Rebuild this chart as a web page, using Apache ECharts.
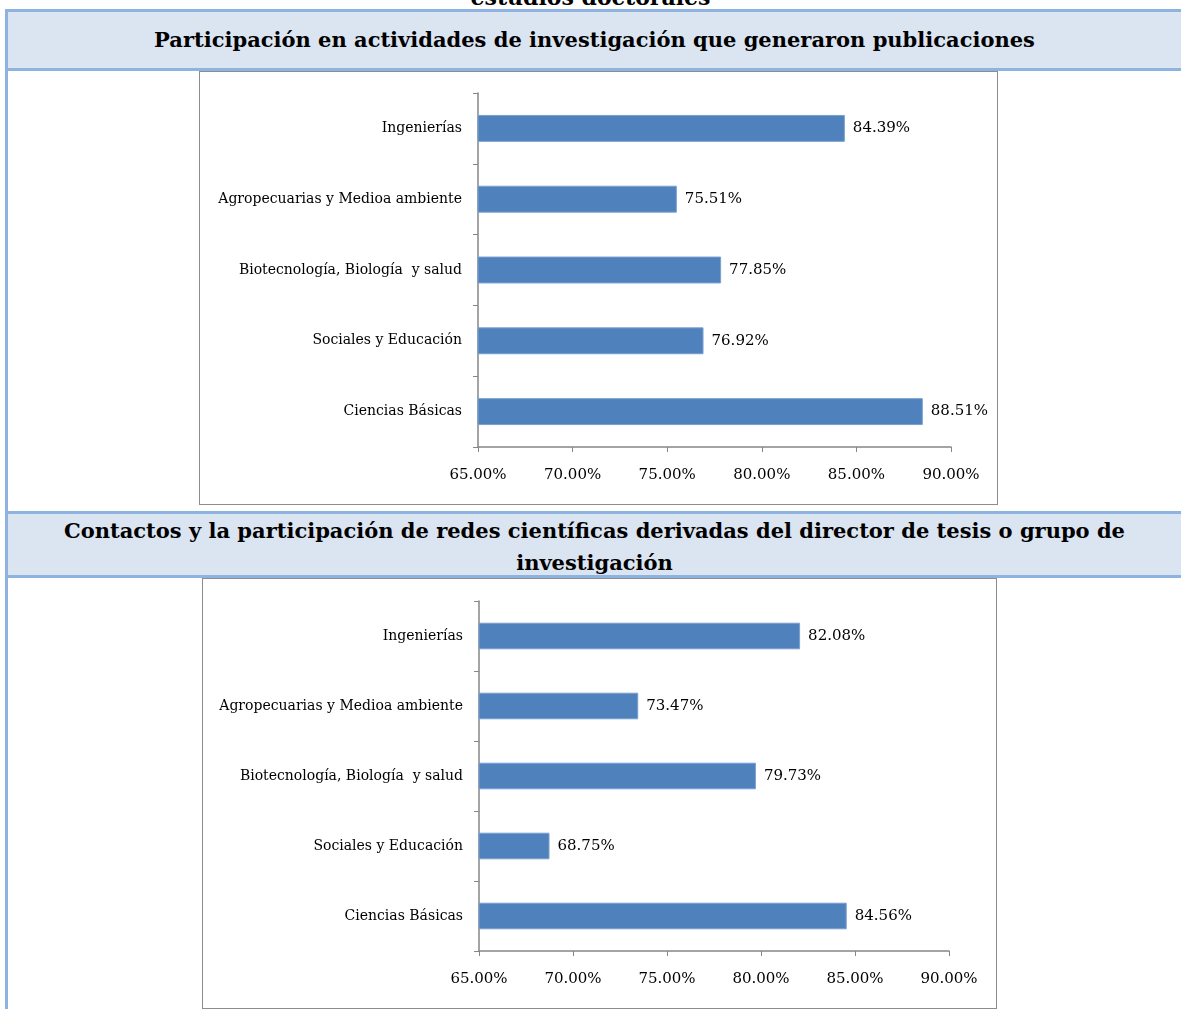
<!DOCTYPE html>
<html>
<head>
<meta charset="utf-8">
<script src="https://cdn.jsdelivr.net/npm/echarts@6/dist/echarts.min.js"></script>
<style>
  body { margin: 0; background: #fff; }
  #page { position: relative; width: 1181px; height: 1009px; overflow: hidden; font-family: 'DejaVu Serif', serif; }
  .head {
    position: absolute; left: 5px; width: 1176px;
    background: #dbe5f1; border-top: 3px solid #8fb3e0; border-bottom: 3px solid #8fb3e0;
    border-left: 3px solid #8fb3e0; box-sizing: border-box;
    font-weight: bold; font-size: 21px; text-align: center; color: #000;
  }
  .side { position: absolute; top: 9px; left: 5px; width: 3px; height: 1009px; background: #8fb3e0; }
  .box { position: absolute; border: 1px solid #8c8c8c; box-sizing: border-box; background: #fff; }
</style>
</head>
<body>
<div id="page">
  <div style="position:absolute;top:-16px;left:0;width:1181px;text-align:center;font-weight:bold;font-size:22px;">estudios doctorales</div>
  <div class="side"></div>
  <div class="head" style="top:9px;height:62px;line-height:56px;">Participación en actividades de investigación que generaron publicaciones</div>
  <div class="box" id="c1" style="left:199px;top:71px;width:799px;height:434px;"></div>
  <div class="head" style="top:511px;height:67px;line-height:32px;padding-top:1px;">Contactos y la participación de redes científicas derivadas del director de tesis o grupo de<br>investigación</div>
  <div class="box" id="c2" style="left:202px;top:578px;width:795px;height:431px;"></div>
</div>
<script>
// categorías (de arriba a abajo)
const categories = ['Ingenierías', 'Agropecuarias y Medioa ambiente', 'Biotecnología, Biología  y salud', 'Sociales y Educación', 'Ciencias Básicas']
// publicaciones
const publicaciones = [84.39, 75.51, 77.85, 76.92, 88.51]
// redes científicas
const redes = [82.08, 73.47, 79.73, 68.75, 84.56]
const xMin = 65
const xMax = 90
const xStep = 5

function makeOption (data, grid) {
  return {
    animation: false,
    textStyle: { fontFamily: 'DejaVu Serif' },
    grid: grid,
    xAxis: {
      type: 'value',
      min: xMin,
      max: xMax,
      interval: xStep,
      axisLine: { show: true, lineStyle: { color: '#868686', width: 1.5 } },
      axisTick: { show: true, length: 5, lineStyle: { color: '#868686' } },
      splitLine: { show: false },
      axisLabel: { color: '#000', fontSize: 15, margin: 21, formatter: v => v.toFixed(2) + '%' }
    },
    yAxis: {
      type: 'category',
      inverse: true,
      data: categories,
      axisLine: { show: true, lineStyle: { color: '#868686', width: 1.5 } },
      axisTick: { show: true, length: 5, lineStyle: { color: '#868686' } },
      axisLabel: { color: '#000', fontSize: 14, margin: 16 }
    },
    series: [{
      type: 'bar',
      data: data,
      barWidth: '38%',
      itemStyle: { color: '#4f81bd', borderColor: '#7aa0cd', borderWidth: 1 },
      label: {
        show: true,
        position: 'right',
        distance: 8,
        color: '#000',
        fontSize: 15,
        formatter: p => p.value.toFixed(2) + '%'
      }
    }]
  }
}

const chart1 = echarts.init(document.getElementById('c1'))
chart1.setOption(makeOption(publicaciones, { left: 278, top: 21, width: 473, height: 354 }))

const chart2 = echarts.init(document.getElementById('c2'))
chart2.setOption(makeOption(redes, { left: 276, top: 22, width: 470, height: 350 }))
</script>
</body>
</html>
